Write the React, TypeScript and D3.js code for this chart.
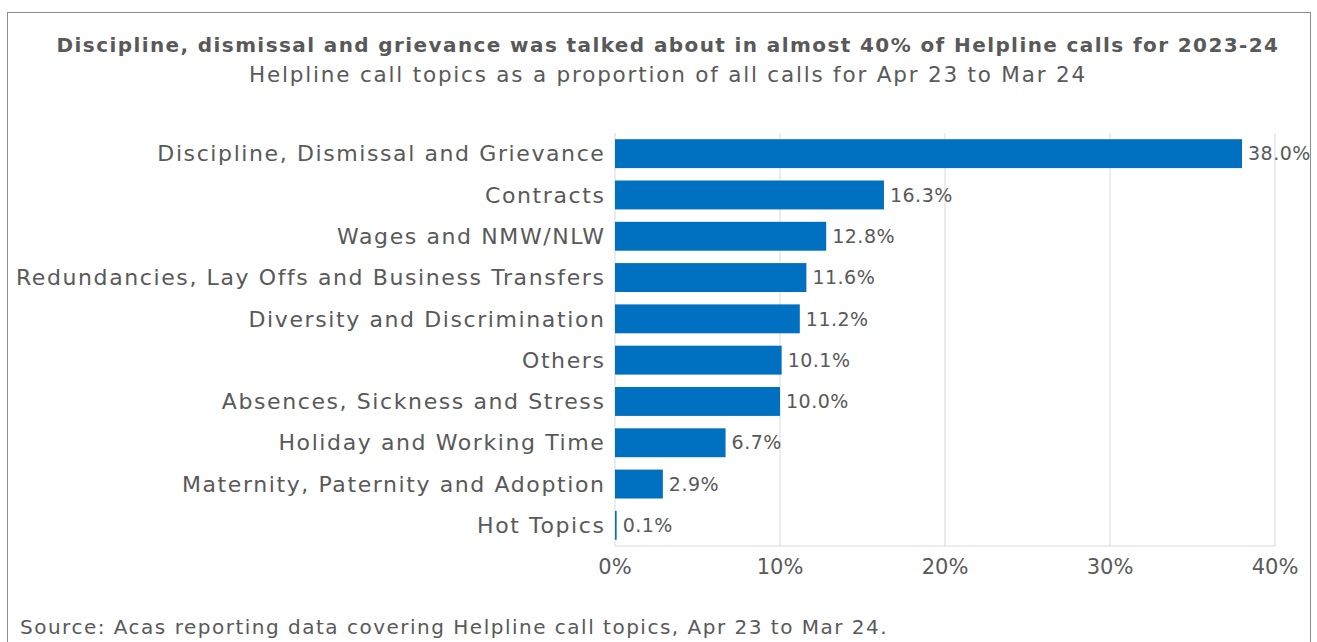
import React from "react";
import * as d3 from "d3";

const categories = [
  "Discipline, Dismissal and Grievance",
  "Contracts",
  "Wages and NMW/NLW",
  "Redundancies, Lay Offs and Business Transfers",
  "Diversity and Discrimination",
  "Others",
  "Absences, Sickness and Stress",
  "Holiday and Working Time",
  "Maternity, Paternity and Adoption",
  "Hot Topics",
];
const values = [38.0, 16.3, 12.8, 11.6, 11.2, 10.1, 10.0, 6.7, 2.9, 0.1];
const ticks = [0, 10, 20, 30, 40];

const title = "Discipline, dismissal and grievance was talked about in almost 40% of Helpline calls for 2023-24";
const subtitle = "Helpline call topics as a proportion of all calls for Apr 23 to Mar 24";
const source = "Source: Acas reporting data covering Helpline call topics, Apr 23 to Mar 24.";

const W = 1317;
const H = 642;
const FONT = "'DejaVu Sans', sans-serif";
const TEXT = "#595959";

export default function App() {
  const x = d3.scaleLinear().domain([0, 40]).range([615, 1275]);
  const y = d3.scaleBand<string>().domain(categories).range([133, 546]).paddingInner(0.3).paddingOuter(0.15);
  return (
    <svg width={W} height={H} style={{ position: "absolute", left: 0, top: 0 }} fontFamily={FONT}>
      <rect x={0} y={0} width={W} height={H} fill="#fff" />
      <rect x={7.5} y={12.5} width={1303} height={H + 10} fill="none" stroke="#8c8c8c" strokeWidth={1} />
      <text x={668} y={52} textAnchor="middle" fontSize={20} fontWeight="bold" fill={TEXT} letterSpacing={1.4}>{title}</text>
      <text x={668} y={82} textAnchor="middle" fontSize={21.5} fill={TEXT} letterSpacing={1.8}>{subtitle}</text>
      {ticks.map((t) => (
        <line key={t} x1={x(t)} x2={x(t)} y1={133} y2={546} stroke="#d9d9d9" strokeWidth={1} />
      ))}
      <line x1={x(0)} x2={x(40)} y1={546} y2={546} stroke="#d9d9d9" strokeWidth={1} />
      {categories.map((c, i) => (
        <g key={c}>
          <rect x={x(0)} y={y(c)} width={x(values[i]) - x(0)} height={y.bandwidth()} fill="#0070C0" />
          <text x={605.5} y={(y(c) as number) + y.bandwidth() / 2} dy="0.35em" textAnchor="end" fontSize={22} fill={TEXT} letterSpacing={1.6}>{c}</text>
          <text x={x(values[i]) + 6} y={(y(c) as number) + y.bandwidth() / 2} dy="0.35em" fontSize={19} fill={TEXT} letterSpacing={0.5}>{values[i].toFixed(1) + "%"}</text>
        </g>
      ))}
      {ticks.map((t) => (
        <text key={t} x={x(t)} y={567} dy="0.35em" textAnchor="middle" fontSize={21} fill={TEXT}>{t + "%"}</text>
      ))}
      <text x={20} y={627} dy="0.35em" fontSize={20} fill={TEXT} letterSpacing={1.5}>{source}</text>
    </svg>
  );
}
